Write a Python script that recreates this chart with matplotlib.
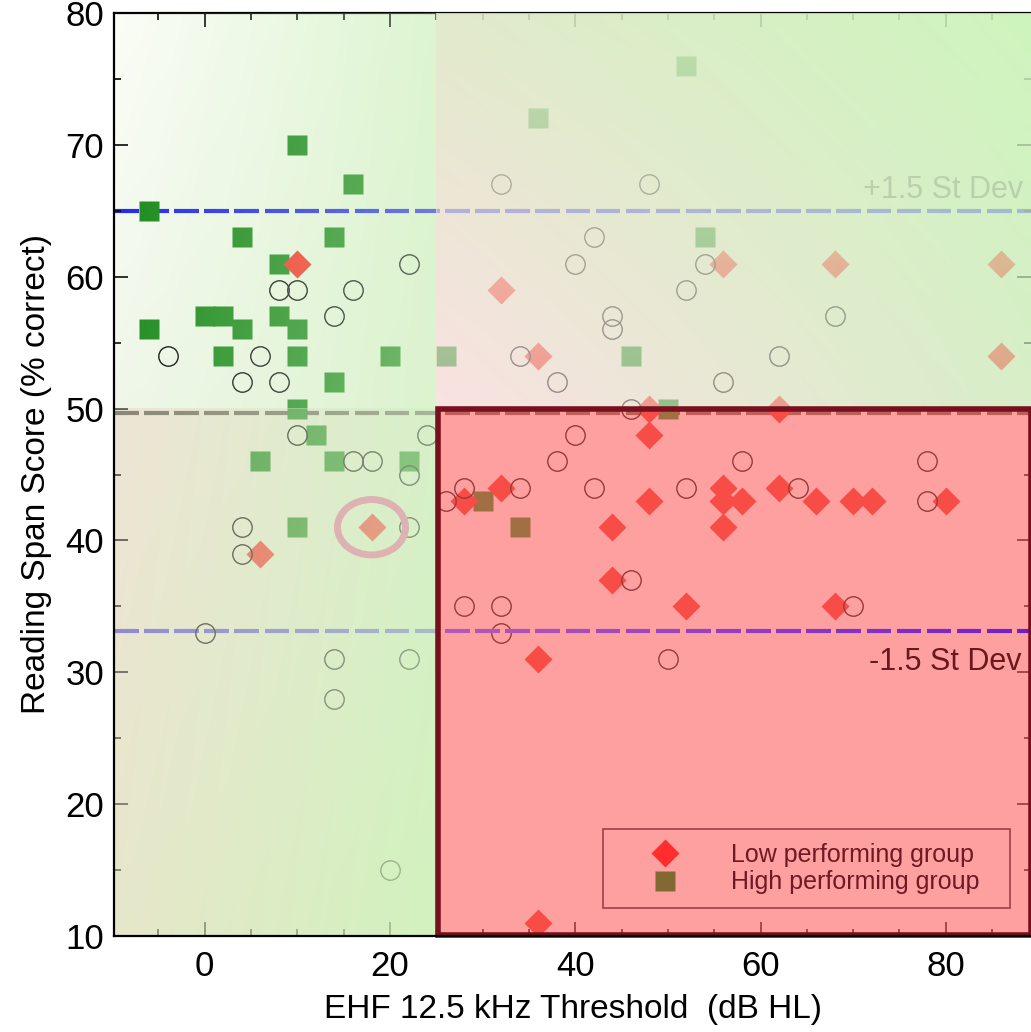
import numpy as np
import matplotlib
matplotlib.use("Agg")
import matplotlib.pyplot as plt
from matplotlib.collections import LineCollection
from matplotlib.patches import Rectangle, Ellipse
from matplotlib.lines import Line2D

plt.rcParams['font.family'] = ['Liberation Sans', 'DejaVu Sans']

# ---------------- data ----------------
circle_x = [22, 8, 10, 16, 14, -4, 6, 4, 8,
            10, 24, 16, 18, 22, 4, 22, 4, 0, 14, 22, 14, 20,
            32, 48, 42, 40, 54, 52, 44, 44, 68, 34, 62, 38, 56, 46,
            40, 38, 58, 78, 28, 34, 42, 52, 64, 26, 78, 46, 28, 32, 70, 32, 50]
circle_y = [61, 59, 59, 59, 57, 54, 54, 52, 52,
            48, 48, 46, 46, 45, 41, 41, 39, 33, 31, 31, 28, 15,
            67, 67, 63, 61, 61, 59, 57, 56, 57, 54, 54, 52, 52, 50,
            48, 46, 46, 46, 44, 44, 44, 44, 44, 43, 43, 37, 35, 35, 35, 33, 31]

high_x = [10, 16, -6, 4, 14, 8, 0, 2, 8, -6, 4, 10, 2, 10, 20, 14, 10,
          12, 6, 14, 22, 10, 52, 36, 54, 26, 46, 50, 30, 34]
high_y = [70, 67, 65, 63, 63, 61, 57, 57, 57, 56, 56, 56, 54, 54, 54, 52, 50,
          48, 46, 46, 46, 41, 76, 72, 63, 54, 54, 50, 43, 41]

low_x = [10, 18, 6, 56, 68, 86, 32, 36, 86, 48, 62,
         48, 32, 56, 62, 28, 48, 56, 58, 66, 70, 72, 80, 44, 56, 44, 52, 68, 36, 36]
low_y = [61, 41, 39, 61, 61, 61, 59, 54, 54, 50, 50,
         48, 44, 44, 44, 43, 43, 43, 43, 43, 43, 43, 43, 41, 41, 37, 35, 35, 31, 11]

sd_plus = 65.0
mean_score = 49.7
sd_minus = 33.1
ehf_cut = 25.0
score_cut = 50.0
highlight_x, highlight_y = 18, 41

x_ticks = [0, 20, 40, 60, 80]
y_ticks = [10, 20, 30, 40, 50, 60, 70, 80]
legend_labels = ['Low performing group', 'High performing group']
xlim = (-9.8, 89.2)
ylim = (10, 80)


def rgb(c):
    return tuple(v / 255 for v in c)


fig = plt.figure(figsize=(10.31, 10.32), dpi=100)
ax = fig.add_axes([114 / 1031, 96 / 1032, 917 / 1031, 923 / 1032])
ax.set_xlim(*xlim)
ax.set_ylim(*ylim)


def grad(bl, br, tl, tr, abl, abr, atl, atr, n=80):
    U, V = np.meshgrid(np.linspace(0, 1, n), np.linspace(0, 1, n))
    U = U[..., None]
    V = V[..., None]

    def bil(a, b, c, d):
        a, b, c, d = (np.asarray(z, float) for z in (a, b, c, d))
        return (1 - V) * ((1 - U) * a + U * b) + V * ((1 - U) * c + U * d)
    col = bil(bl, br, tl, tr) / 255.0
    alp = bil([abl], [abr], [atl], [atr])
    bg = np.concatenate([col, np.ones_like(alp)], axis=2)
    ov = np.concatenate([col, alp], axis=2)
    return bg, ov


regions = [
    # extent, colours (bl, br, tl, tr), alphas (bl, br, tl, tr)
    ((xlim[0], ehf_cut, score_cut, ylim[1]),
     ((240, 247, 234), (220, 243, 206), (251, 253, 247), (221, 245, 209)),
     (0.08, 0.5, 0.0, 0.35)),
    ((xlim[0], ehf_cut, ylim[0], score_cut),
     ((230, 231, 202), (210, 242, 190), (238, 229, 213), (215, 240, 201)),
     (0.55, 0.8, 0.3, 0.6)),
    ((ehf_cut, xlim[1], score_cut, ylim[1]),
     ((250, 226, 226), (216, 238, 200), (226, 234, 204), (206, 245, 190)),
     (0.6, 0.62, 0.87, 0.87)),
]
for ext, cols, alps in regions:
    bg, ov = grad(*cols, *alps)
    ax.imshow(bg, extent=ext, origin='lower', aspect='auto',
              interpolation='bilinear', zorder=0)
    ax.imshow(ov, extent=ext, origin='lower', aspect='auto',
              interpolation='bilinear', zorder=3)

# red low-performing region overlay
ax.add_patch(Rectangle((ehf_cut, ylim[0]), xlim[1] - ehf_cut, score_cut - ylim[0],
                       facecolor=(1.0, 97 / 255, 97 / 255, 0.6), edgecolor='none',
                       zorder=3.05))
ax.add_patch(Rectangle((ehf_cut + 0.2, ylim[0] + 0.1), xlim[1] - ehf_cut - 0.2,
                       score_cut - ylim[0] - 0.1,
                       fill=False, edgecolor=rgb((120, 15, 30)), linewidth=4.0,
                       zorder=3.6, clip_on=False))
ax.set_xlim(*xlim)
ax.set_ylim(*ylim)

# dashed reference lines
period, dash = 3.25, 2.65
starts = np.arange(xlim[0], xlim[1], period)


def segs(y, lo, hi):
    out = []
    for s in starts:
        a, b = max(s, lo), min(s + dash, hi)
        if b > a:
            out.append([(a, y), (b, y)])
    return out


ax.add_collection(LineCollection(segs(sd_plus, xlim[0], xlim[1]),
                                 colors=[rgb((25, 35, 235))], linewidths=3, zorder=1.5))
ax.add_collection(LineCollection(segs(mean_score, xlim[0], xlim[1]),
                                 colors=[rgb((95, 95, 80))], linewidths=3, zorder=1.5))
ax.add_collection(LineCollection(segs(sd_minus, xlim[0], ehf_cut),
                                 colors=[rgb((85, 75, 210))], linewidths=3, zorder=1.5))
right = segs(sd_minus, ehf_cut, xlim[1])
c0 = np.array((180, 90, 185)) / 255
c1 = np.array((110, 30, 200)) / 255
tcol = [c0 + (c1 - c0) * ((s[0][0] - ehf_cut) / (xlim[1] - ehf_cut)) for s in right]
ax.add_collection(LineCollection(right, colors=tcol, linewidths=3, zorder=3.5))

# points
ax.plot(high_x, high_y, ls='none', marker='s', ms=15, mfc=rgb((20, 135, 20)),
        mec='none', zorder=2.0)
ax.plot(low_x, low_y, ls='none', marker='D', ms=14, mfc=rgb((240, 45, 30)),
        mec='none', zorder=2.1)
ax.plot(circle_x, circle_y, ls='none', marker='o', ms=14, mfc='none',
        mec='black', mew=1.0, zorder=2.2)

ax.add_patch(Ellipse((highlight_x, highlight_y), 7.35, 4.2, fill=False,
                     edgecolor=rgb((222, 178, 178)), linewidth=5, zorder=3.2))

# annotations
ax.text(88.4, 66.6, '+1.5 St Dev', ha='right', va='center', fontsize=22,
        color=rgb((105, 110, 95)), zorder=2.5)
ax.text(88.2, 30.75, '-1.5 St Dev', ha='right', va='center', fontsize=22,
        color=rgb((105, 25, 30)), zorder=4)

# axes styling
ax.set_xticks(x_ticks)
ax.set_yticks(y_ticks)
ax.set_xticks(np.arange(-5, 90, 5), minor=True)
ax.set_yticks(np.arange(10, 81, 5), minor=True)
ax.tick_params(which='both', direction='in', top=True, right=True,
               labelsize=25, width=1.2, colors='black')
ax.tick_params(which='major', length=10, pad=7)
ax.tick_params(which='minor', length=5)
ax.tick_params(axis='x', which='major', pad=10)
for side in ('left', 'bottom'):
    ax.spines[side].set_linewidth(1.6)
    ax.spines[side].set_zorder(5)
ax.spines['top'].set_linewidth(1.6)
ax.spines['right'].set_visible(False)

ax.set_xlabel('EHF 12.5 kHz Threshold  (dB HL)', fontsize=24, labelpad=8)
ax.set_ylabel('Reading Span Score (% correct)', fontsize=24, labelpad=10)

handles = [Line2D([], [], ls='none', marker='D', ms=14, mfc=rgb((255, 45, 45)), mec='none'),
           Line2D([], [], ls='none', marker='s', ms=15, mfc=rgb((130, 105, 50)), mec='none')]
leg = ax.legend(handles, legend_labels, loc='lower left',
                bbox_to_anchor=(0.533, 0.0303, 0.444, 0.091), mode='expand',
                fontsize=18, frameon=True, fancybox=False, facecolor='none',
                edgecolor=rgb((130, 40, 50)), borderpad=0.55, labelspacing=0.15,
                handlelength=3.9, handletextpad=0.68, borderaxespad=0)
leg.get_frame().set_linewidth(1.2)
for t in leg.get_texts():
    t.set_color(rgb((110, 25, 35)))
leg.set_zorder(6)

fig.savefig('out.png', dpi=100)
